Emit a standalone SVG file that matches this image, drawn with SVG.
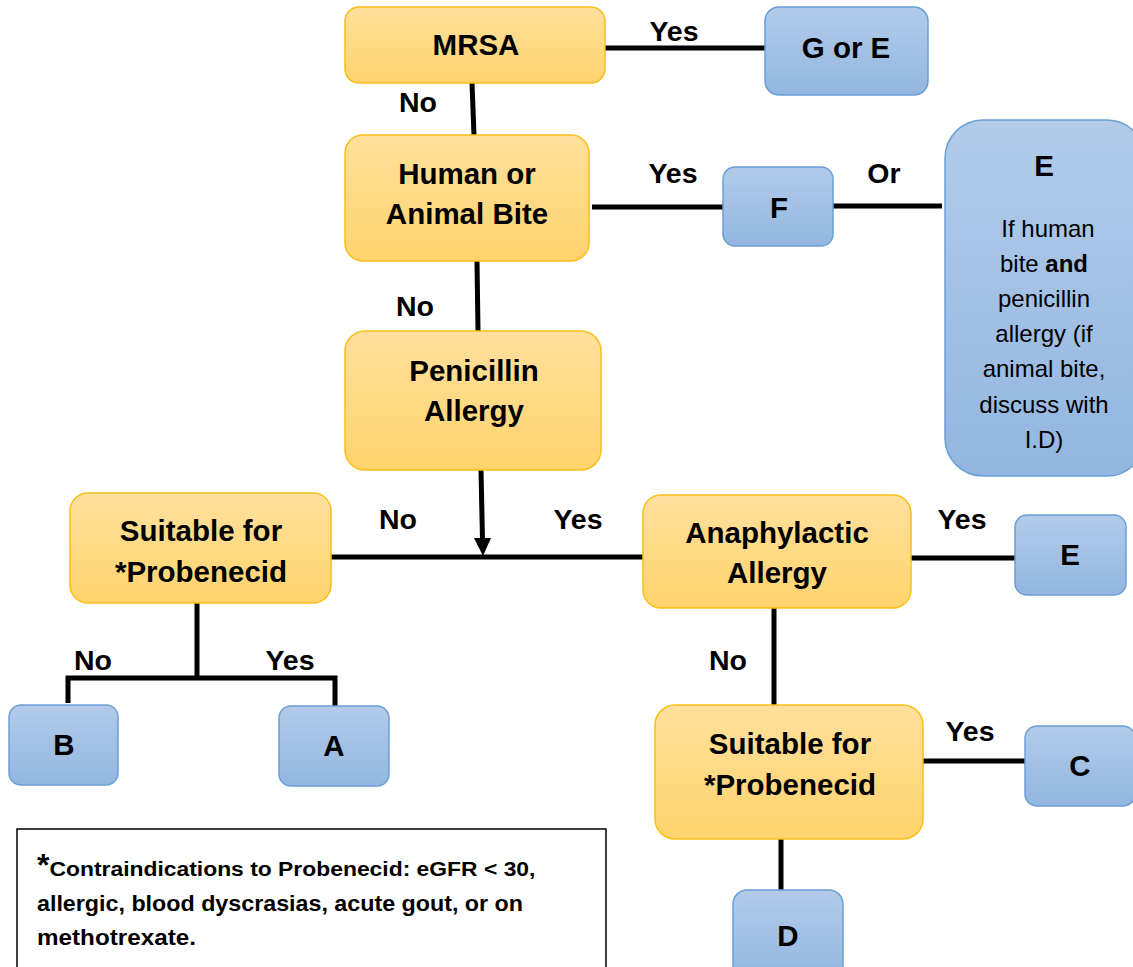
<svg xmlns="http://www.w3.org/2000/svg" width="1133" height="967" viewBox="0 0 1133 967">
<defs>
<linearGradient id="og" x1="0" y1="0" x2="0" y2="1"><stop offset="0" stop-color="#FFE09D"/><stop offset="1" stop-color="#FFD36C"/></linearGradient>
<linearGradient id="bg" x1="0" y1="0" x2="0" y2="1"><stop offset="0" stop-color="#B2CBE9"/><stop offset="1" stop-color="#93B6E0"/></linearGradient>
</defs>
<style>
.o{fill:url(#og);stroke:#F9BF1A;stroke-width:1.5}
.b{fill:url(#bg);stroke:#6A9FD6;stroke-width:1.5}
.n{font-family:"Liberation Sans",Arial,sans-serif;font-weight:bold;font-size:29.5px;fill:#000;text-anchor:middle}
.l{font-family:"Liberation Sans",Arial,sans-serif;font-weight:bold;font-size:28.5px;fill:#000;text-anchor:middle}
.t{font-family:"Liberation Sans",Arial,sans-serif;font-size:24px;fill:#000;text-anchor:middle}
.f{font-family:"Liberation Sans",Arial,sans-serif;font-weight:bold;font-size:22px;fill:#000}
.c{stroke:#000;stroke-width:5;fill:none}
</style>
<g id="connectors">
<line class="c" x1="605" y1="48" x2="767" y2="48"/>
<line class="c" x1="472" y1="83" x2="474" y2="135"/>
<line class="c" x1="592" y1="207" x2="724" y2="207"/>
<line class="c" x1="833" y1="206" x2="942" y2="206"/>
<line class="c" x1="477" y1="261" x2="478" y2="331"/>
<line class="c" x1="481" y1="470" x2="482.5" y2="540"/>
<path d="M474,538 L491,538 L483,556 Z" fill="#000"/>
<line class="c" x1="331" y1="557" x2="643" y2="557"/>
<line class="c" x1="911" y1="558" x2="1016" y2="558"/>
<line class="c" x1="197" y1="603" x2="197" y2="678"/>
<polyline class="c" points="68,703 68,678 335,678 335,707"/>
<line class="c" x1="774" y1="608" x2="774" y2="706"/>
<line class="c" x1="923" y1="761" x2="1026" y2="761"/>
<line class="c" x1="781" y1="839" x2="781" y2="891"/>
<text class="l" x="674" y="41">Yes</text>
<text class="l" x="418" y="112">No</text>
<text class="l" x="673" y="183">Yes</text>
<text class="l" x="884" y="183">Or</text>
<text class="l" x="415" y="316">No</text>
<text class="l" x="398" y="529">No</text>
<text class="l" x="578" y="529">Yes</text>
<text class="l" x="962" y="529">Yes</text>
<text class="l" x="93" y="670">No</text>
<text class="l" x="290" y="670">Yes</text>
<text class="l" x="728" y="670">No</text>
<text class="l" x="970" y="741">Yes</text>
</g>
<g id="mrsa"><rect class="o" x="345" y="7" width="260" height="76" rx="14"/><text class="n" x="476" y="55">MRSA</text></g>
<g id="gore"><rect class="b" x="765" y="7" width="163" height="88" rx="14"/><text class="n" x="846" y="58">G or E</text></g>
<g id="bite"><rect class="o" x="345" y="135" width="244" height="126" rx="18"/><text class="n" x="467" y="184">Human or</text><text class="n" x="467" y="224">Animal Bite</text></g>
<g id="f"><rect class="b" x="723" y="167" width="110" height="79" rx="12"/><text class="n" x="779" y="218">F</text></g>
<g id="e1"><rect class="b" x="945" y="120" width="200" height="356" rx="38"/><text class="n" x="1044" y="176">E</text>
<text class="t" x="1048" y="237">If human</text>
<text class="t" x="1044" y="272">bite <tspan font-weight="bold">and</tspan></text>
<text class="t" x="1044" y="307">penicillin</text>
<text class="t" x="1044" y="342">allergy (if</text>
<text class="t" x="1044" y="377">animal bite,</text>
<text class="t" x="1044" y="413">discuss with</text>
<text class="t" x="1044" y="448">I.D)</text></g>
<g id="pen"><rect class="o" x="345" y="331" width="256" height="139" rx="20"/><text class="n" x="474" y="381">Penicillin</text><text class="n" x="474" y="421">Allergy</text></g>
<g id="prob1"><rect class="o" x="70" y="493" width="261" height="110" rx="18"/><text class="n" x="201" y="541">Suitable for</text><text class="n" x="201" y="582">*Probenecid</text></g>
<g id="b"><rect class="b" x="9" y="705" width="109" height="80" rx="12"/><text class="n" x="64" y="755">B</text></g>
<g id="a"><rect class="b" x="279" y="706" width="110" height="80" rx="12"/><text class="n" x="334" y="756">A</text></g>
<g id="ana"><rect class="o" x="643" y="495" width="268" height="113" rx="18"/><text class="n" x="777" y="543">Anaphylactic</text><text class="n" x="777" y="583">Allergy</text></g>
<g id="e2"><rect class="b" x="1015" y="515" width="111" height="80" rx="12"/><text class="n" x="1070" y="565">E</text></g>
<g id="prob2"><rect class="o" x="655" y="705" width="268" height="134" rx="20"/><text class="n" x="790" y="754">Suitable for</text><text class="n" x="790" y="795">*Probenecid</text></g>
<g id="c"><rect class="b" x="1025" y="726" width="110" height="80" rx="12"/><text class="n" x="1080" y="776">C</text></g>
<g id="d"><rect class="b" x="733" y="890" width="110" height="90" rx="14"/><text class="n" x="788" y="946">D</text></g>
<g id="note"><rect x="17" y="829" width="589" height="150" fill="#fff" stroke="#000" stroke-width="1.5"/>
<text class="f" x="37" y="876"><tspan font-size="32">*</tspan><tspan font-size="20" textLength="486" lengthAdjust="spacingAndGlyphs">Contraindications to Probenecid: eGFR &lt; 30,</tspan></text>
<text class="f" x="37" y="911" font-size="20" textLength="486" lengthAdjust="spacingAndGlyphs">allergic, blood dyscrasias, acute gout, or on</text>
<text class="f" x="37" y="945" font-size="20" textLength="159" lengthAdjust="spacingAndGlyphs">methotrexate.</text></g>
</svg>
